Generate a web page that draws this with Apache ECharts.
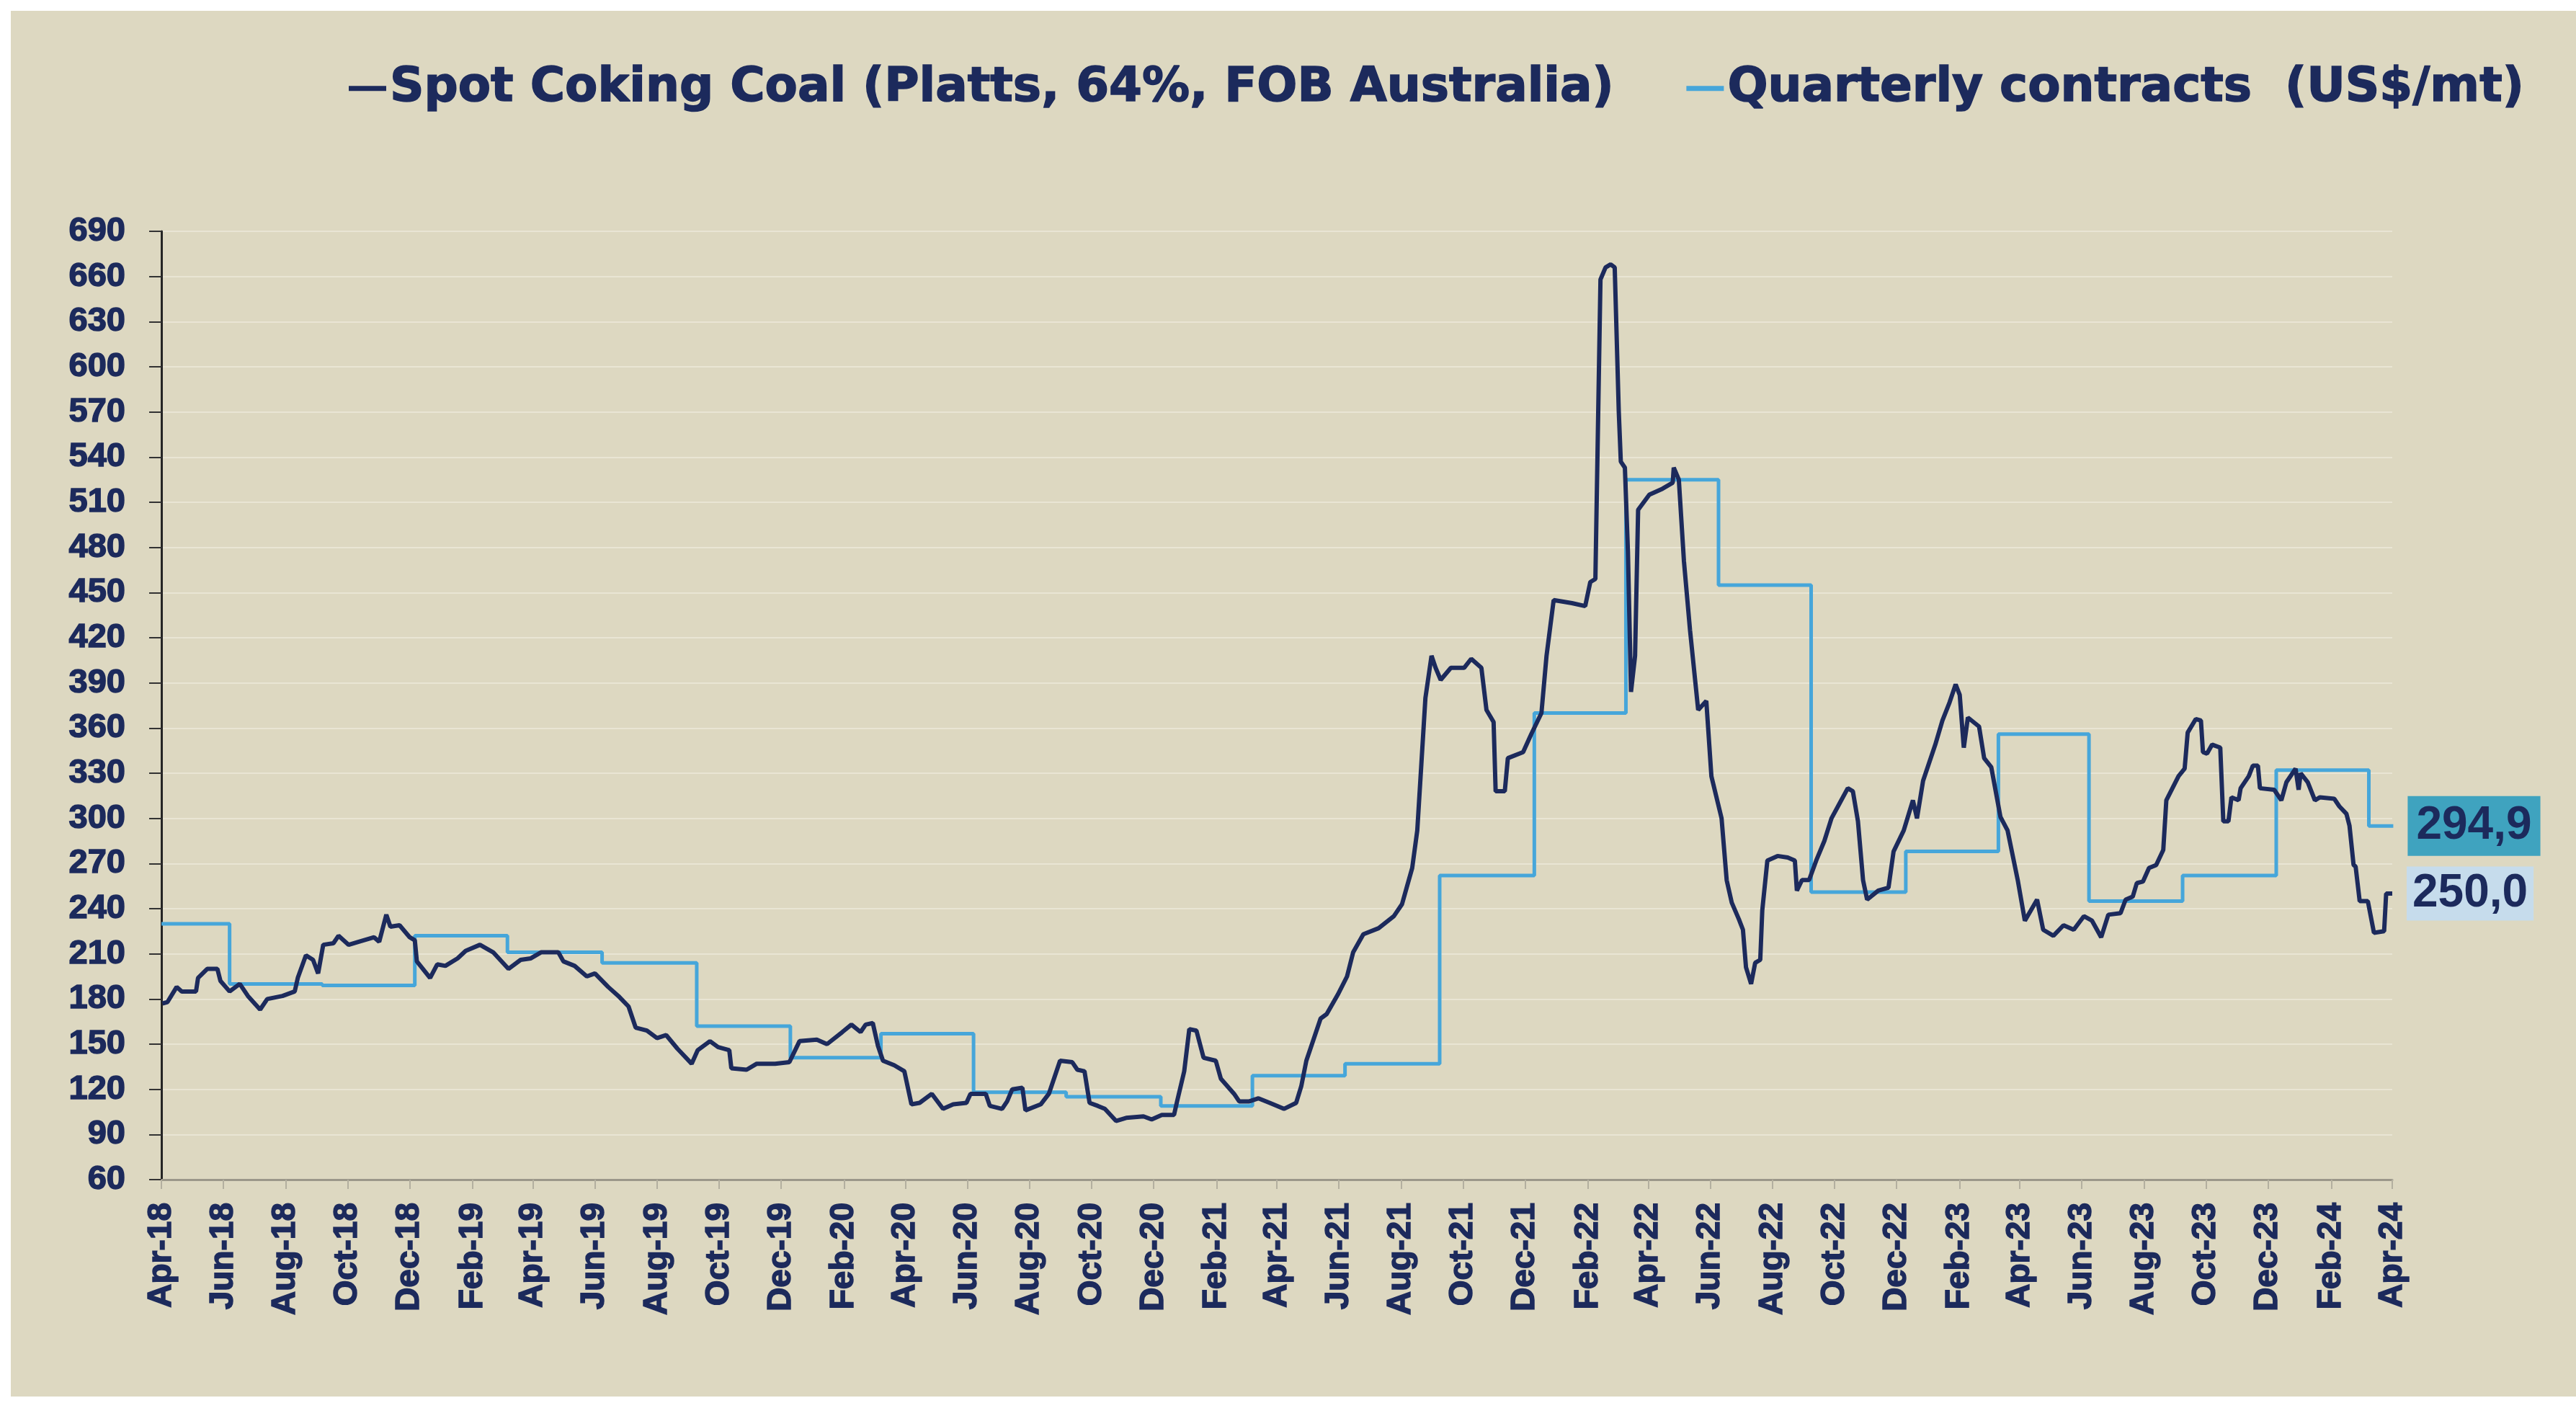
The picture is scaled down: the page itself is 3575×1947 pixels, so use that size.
<!DOCTYPE html>
<html>
<head>
<meta charset="utf-8">
<script src="https://cdn.jsdelivr.net/npm/echarts@6/dist/echarts.min.js"></script>
<style>
  html, body { margin: 0; padding: 0; background: #ffffff; }
  #chart { width: 3575px; height: 1947px; }
</style>
</head>
<body>
<div id="chart"></div>
<script>
// spot coking coal, US$/mt
const spotCoal = [
  ['2018-04-02', 177], ['2018-04-07', 178], ['2018-04-16', 188], ['2018-04-21', 185],
  ['2018-05-05', 185], ['2018-05-07', 194], ['2018-05-16', 200], ['2018-05-26', 200],
  ['2018-05-29', 192], ['2018-06-07', 185], ['2018-06-17', 190], ['2018-06-25', 182],
  ['2018-07-07', 173], ['2018-07-14', 180], ['2018-07-29', 182], ['2018-08-10', 185],
  ['2018-08-13', 194], ['2018-08-21', 209], ['2018-08-28', 206], ['2018-09-02', 197],
  ['2018-09-07', 216], ['2018-09-17', 217], ['2018-09-22', 222], ['2018-10-02', 216],
  ['2018-10-12', 218], ['2018-10-27', 221], ['2018-11-01', 218], ['2018-11-08', 236],
  ['2018-11-12', 228], ['2018-11-21', 229], ['2018-12-01', 221], ['2018-12-06', 219],
  ['2018-12-08', 205], ['2018-12-21', 194], ['2018-12-28', 203], ['2019-01-05', 202],
  ['2019-01-17', 207], ['2019-01-25', 212], ['2019-02-08', 216], ['2019-02-21', 211],
  ['2019-03-08', 200], ['2019-03-20', 206], ['2019-03-30', 207], ['2019-04-09', 211],
  ['2019-04-16', 211], ['2019-04-26', 211], ['2019-05-01', 205], ['2019-05-12', 202],
  ['2019-05-24', 195], ['2019-06-01', 197], ['2019-06-14', 188], ['2019-06-24', 182],
  ['2019-07-04', 175], ['2019-07-11', 161], ['2019-07-22', 159], ['2019-08-01', 154],
  ['2019-08-10', 156], ['2019-08-21', 147], ['2019-09-04', 137], ['2019-09-10', 146],
  ['2019-09-22', 152], ['2019-09-30', 148], ['2019-10-11', 146], ['2019-10-13', 134],
  ['2019-10-28', 133], ['2019-11-07', 137], ['2019-11-25', 137], ['2019-12-09', 138],
  ['2019-12-19', 152], ['2020-01-05', 153], ['2020-01-15', 150], ['2020-01-30', 158],
  ['2020-02-08', 163], ['2020-02-17', 158], ['2020-02-22', 163], ['2020-02-29', 164],
  ['2020-03-05', 149], ['2020-03-10', 139], ['2020-03-21', 136], ['2020-03-31', 132],
  ['2020-04-07', 110], ['2020-04-15', 111], ['2020-04-27', 117], ['2020-05-08', 107],
  ['2020-05-18', 110], ['2020-05-31', 111], ['2020-06-04', 117], ['2020-06-19', 117],
  ['2020-06-23', 109], ['2020-07-05', 107], ['2020-07-10', 112], ['2020-07-15', 120],
  ['2020-07-25', 121], ['2020-07-28', 106], ['2020-08-12', 110], ['2020-08-20', 117],
  ['2020-08-31', 139], ['2020-09-12', 138], ['2020-09-17', 133], ['2020-09-24', 132],
  ['2020-09-29', 111], ['2020-10-07', 109], ['2020-10-14', 107], ['2020-10-25', 99],
  ['2020-11-04', 101], ['2020-11-21', 102], ['2020-11-29', 100], ['2020-12-09', 103],
  ['2020-12-21', 103], ['2020-12-24', 112], ['2020-12-31', 132], ['2021-01-05', 160],
  ['2021-01-12', 159], ['2021-01-19', 141], ['2021-01-31', 139], ['2021-02-05', 127],
  ['2021-02-18', 117], ['2021-02-23', 112], ['2021-03-05', 112], ['2021-03-14', 114],
  ['2021-03-25', 111], ['2021-04-08', 107], ['2021-04-20', 111], ['2021-04-25', 122],
  ['2021-04-30', 139], ['2021-05-07', 153], ['2021-05-14', 167], ['2021-05-20', 170],
  ['2021-05-31', 183], ['2021-06-09', 195], ['2021-06-15', 211], ['2021-06-25', 223],
  ['2021-07-10', 227], ['2021-07-25', 235], ['2021-08-02', 243], ['2021-08-07', 255],
  ['2021-08-12', 267], ['2021-08-17', 292], ['2021-08-21', 336], ['2021-08-25', 380],
  ['2021-08-31', 408], ['2021-09-04', 400], ['2021-09-09', 392], ['2021-09-19', 400],
  ['2021-10-02', 400], ['2021-10-09', 406], ['2021-10-19', 400], ['2021-10-24', 372],
  ['2021-10-31', 364], ['2021-11-02', 318], ['2021-11-11', 318], ['2021-11-14', 340],
  ['2021-11-29', 344], ['2021-12-07', 356], ['2021-12-17', 370], ['2021-12-22', 408],
  ['2021-12-29', 445], ['2022-01-16', 443], ['2022-01-29', 441], ['2022-02-03', 457],
  ['2022-02-08', 459], ['2022-02-13', 658], ['2022-02-18', 666], ['2022-02-23', 668],
  ['2022-02-27', 666], ['2022-03-03', 570], ['2022-03-05', 537], ['2022-03-09', 533],
  ['2022-03-12', 477], ['2022-03-15', 384], ['2022-03-19', 408], ['2022-03-22', 505],
  ['2022-04-02', 515], ['2022-04-15', 519], ['2022-04-25', 523], ['2022-04-26', 533],
  ['2022-05-01', 525], ['2022-05-06', 471], ['2022-05-12', 425], ['2022-05-20', 372],
  ['2022-05-28', 378], ['2022-06-02', 328], ['2022-06-12', 300], ['2022-06-17', 259],
  ['2022-06-22', 244], ['2022-06-29', 233], ['2022-07-03', 226], ['2022-07-06', 201],
  ['2022-07-11', 190], ['2022-07-15', 204], ['2022-07-20', 206], ['2022-07-22', 239],
  ['2022-07-27', 272], ['2022-08-06', 275], ['2022-08-16', 274], ['2022-08-23', 272],
  ['2022-08-25', 252], ['2022-08-30', 259], ['2022-09-06', 259], ['2022-09-13', 272],
  ['2022-09-21', 285], ['2022-09-28', 300], ['2022-10-06', 310], ['2022-10-14', 320],
  ['2022-10-19', 318], ['2022-10-24', 298], ['2022-10-29', 259], ['2022-11-02', 246],
  ['2022-11-13', 252], ['2022-11-23', 254], ['2022-11-28', 278], ['2022-12-08', 292],
  ['2022-12-17', 312], ['2022-12-21', 300], ['2022-12-27', 325], ['2023-01-08', 349],
  ['2023-01-15', 365], ['2023-01-22', 377], ['2023-01-28', 389], ['2023-02-01', 382],
  ['2023-02-05', 347], ['2023-02-09', 367], ['2023-02-20', 361], ['2023-02-25', 340],
  ['2023-03-04', 334], ['2023-03-13', 301], ['2023-03-20', 292], ['2023-03-30', 259],
  ['2023-04-06', 232], ['2023-04-18', 246], ['2023-04-24', 226], ['2023-05-04', 222],
  ['2023-05-14', 229], ['2023-05-24', 226], ['2023-06-03', 235], ['2023-06-11', 232],
  ['2023-06-20', 221], ['2023-06-27', 236], ['2023-07-09', 237], ['2023-07-14', 246],
  ['2023-07-21', 248], ['2023-07-25', 257], ['2023-07-31', 258], ['2023-08-06', 267],
  ['2023-08-13', 269], ['2023-08-20', 279], ['2023-08-23', 312], ['2023-08-29', 320],
  ['2023-09-04', 328], ['2023-09-10', 333], ['2023-09-13', 357], ['2023-09-21', 366],
  ['2023-09-26', 365], ['2023-09-28', 344], ['2023-10-02', 343], ['2023-10-07', 349],
  ['2023-10-15', 347], ['2023-10-18', 298], ['2023-10-23', 298], ['2023-10-26', 314],
  ['2023-11-02', 312], ['2023-11-04', 320], ['2023-11-12', 328], ['2023-11-16', 335],
  ['2023-11-21', 335], ['2023-11-23', 320], ['2023-12-07', 319], ['2023-12-14', 312],
  ['2023-12-19', 324], ['2023-12-28', 333], ['2023-12-31', 319], ['2024-01-02', 330],
  ['2024-01-09', 324], ['2024-01-16', 312], ['2024-01-21', 314], ['2024-02-04', 313],
  ['2024-02-09', 308], ['2024-02-16', 303], ['2024-02-19', 295], ['2024-02-23', 269],
  ['2024-02-25', 268], ['2024-02-29', 245], ['2024-03-08', 245], ['2024-03-14', 224],
  ['2024-03-24', 225], ['2024-03-26', 250], ['2024-04-01', 250]
];

// quarterly contract price, each value holds from its date to the next one
const quarterly = [
  ['2018-04-01', 230], ['2018-06-07', 190], ['2018-09-06', 189], ['2018-12-06', 222],
  ['2019-03-07', 211], ['2019-06-08', 204], ['2019-09-09', 162], ['2019-12-10', 141],
  ['2020-03-08', 157], ['2020-06-07', 118], ['2020-09-06', 115], ['2020-12-08', 109],
  ['2021-03-08', 129], ['2021-06-07', 137], ['2021-09-08', 262], ['2021-12-10', 370],
  ['2022-03-10', 525], ['2022-06-09', 455], ['2022-09-08', 251], ['2022-12-10', 278],
  ['2023-03-11', 356], ['2023-06-08', 245], ['2023-09-08', 262], ['2023-12-09', 332],
  ['2024-03-09', 294.9], ['2024-04-02', 294.9]
];

const tickDates = [
  '2018-04-01', '2018-06-01', '2018-08-01', '2018-10-01', '2018-12-01',
  '2019-02-01', '2019-04-01', '2019-06-01', '2019-08-01', '2019-10-01', '2019-12-01',
  '2020-02-01', '2020-04-01', '2020-06-01', '2020-08-01', '2020-10-01', '2020-12-01',
  '2021-02-01', '2021-04-01', '2021-06-01', '2021-08-01', '2021-10-01', '2021-12-01',
  '2022-02-01', '2022-04-01', '2022-06-01', '2022-08-01', '2022-10-01', '2022-12-01',
  '2023-02-01', '2023-04-01', '2023-06-01', '2023-08-01', '2023-10-01', '2023-12-01',
  '2024-02-01', '2024-04-01'
];
const tickLabels = [
  'Apr-18', 'Jun-18', 'Aug-18', 'Oct-18', 'Dec-18',
  'Feb-19', 'Apr-19', 'Jun-19', 'Aug-19', 'Oct-19', 'Dec-19',
  'Feb-20', 'Apr-20', 'Jun-20', 'Aug-20', 'Oct-20', 'Dec-20',
  'Feb-21', 'Apr-21', 'Jun-21', 'Aug-21', 'Oct-21', 'Dec-21',
  'Feb-22', 'Apr-22', 'Jun-22', 'Aug-22', 'Oct-22', 'Dec-22',
  'Feb-23', 'Apr-23', 'Jun-23', 'Aug-23', 'Oct-23', 'Dec-23',
  'Feb-24', 'Apr-24'
];

const yMin = 60, yMax = 690, yStep = 30;

const navy = '#1c2a5c';
const lightBlue = '#46a6da';

// dates go on a plain value axis as local-time milliseconds
function toTime(s) {
  const p = s.split('-').map(Number);
  return new Date(p[0], p[1] - 1, p[2]).getTime();
}
const tickTimes = tickDates.map(toTime);
const spotData = spotCoal.map(d => [toTime(d[0]), d[1]]);
const quarterlyData = quarterly.map(d => [toTime(d[0]), d[1]]);

function commaNum(v) {
  return v.toFixed(1).replace('.', ',');
}

const chart = echarts.init(document.getElementById('chart'));

const labelFont = {
  color: navy,
  fontFamily: 'Liberation Sans',
  fontWeight: 'bold',
  textBorderColor: navy,
  textBorderWidth: 1.5
};

const option = {
  animation: false,
  backgroundColor: '#ffffff',
  graphic: [
    {
      type: 'rect',
      shape: { x: 15, y: 15, width: 3560, height: 1923 },
      style: { fill: '#ddd8c1' },
      z: -10,
      silent: true
    }
  ],
  legend: {
    left: 479,
    top: 84,
    itemWidth: 52,
    itemHeight: 7,
    itemGap: 100,
    icon: 'rect',
    textStyle: {
      color: navy,
      fontFamily: 'DejaVu Sans',
      fontWeight: 'bold',
      fontSize: 66,
      textBorderColor: navy,
      textBorderWidth: 1.5
    },
    data: ['Spot Coking Coal (Platts, 64%, FOB Australia)', 'Quarterly contracts  (US$/mt)']
  },
  grid: { left: 224, right: 255, top: 321, bottom: 310 },
  xAxis: {
    type: 'value',
    min: tickTimes[0],
    max: tickTimes[tickTimes.length - 1],
    axisLine: { show: true, lineStyle: { color: '#9b978a', width: 3 } },
    axisTick: {
      show: true,
      customValues: tickTimes,
      length: 13,
      lineStyle: { color: '#b3af9f', width: 2 }
    },
    axisLabel: Object.assign({}, labelFont, {
      customValues: tickTimes,
      rotate: 90,
      margin: 32,
      fontSize: 46,
      formatter: function (val) {
        for (let i = 0; i < tickTimes.length; i++) {
          if (Math.abs(tickTimes[i] - val) < 43200000) return tickLabels[i];
        }
        return '';
      }
    }),
    splitLine: { show: false }
  },
  yAxis: {
    type: 'value',
    min: yMin,
    max: yMax,
    interval: yStep,
    axisLine: { show: true, lineStyle: { color: '#252525', width: 3 } },
    axisTick: { show: true, length: 17, lineStyle: { color: '#333333', width: 2 } },
    axisLabel: Object.assign({}, labelFont, { fontSize: 47, margin: 50 }),
    splitLine: { show: true, lineStyle: { color: '#e9e5d4', width: 2 } }
  },
  series: [
    {
      name: 'Quarterly contracts  (US$/mt)',
      type: 'line',
      step: 'end',
      data: quarterlyData,
      showSymbol: false,
      color: lightBlue,
      lineStyle: { color: lightBlue, width: 5 },
      z: 2,
      endLabel: {
        show: true,
        distance: 20,
        formatter: function (p) { return commaNum(p.value[1]); },
        color: navy,
        fontFamily: 'Liberation Sans',
        fontWeight: 'bold',
        fontSize: 64,
        lineHeight: 68,
        backgroundColor: '#3fa3bf',
        padding: [8, 12, 7, 12]
      }
    },
    {
      name: 'Spot Coking Coal (Platts, 64%, FOB Australia)',
      type: 'line',
      data: spotData,
      showSymbol: false,
      color: navy,
      lineStyle: { color: navy, width: 6 },
      z: 3,
      endLabel: {
        show: true,
        distance: 20,
        formatter: function (p) { return commaNum(p.value[1]); },
        color: navy,
        fontFamily: 'Liberation Sans',
        fontWeight: 'bold',
        fontSize: 64,
        lineHeight: 64,
        backgroundColor: '#c6dcec',
        padding: [6, 8, 5, 8]
      }
    }
  ]
};

chart.setOption(option);
</script>
</body>
</html>
